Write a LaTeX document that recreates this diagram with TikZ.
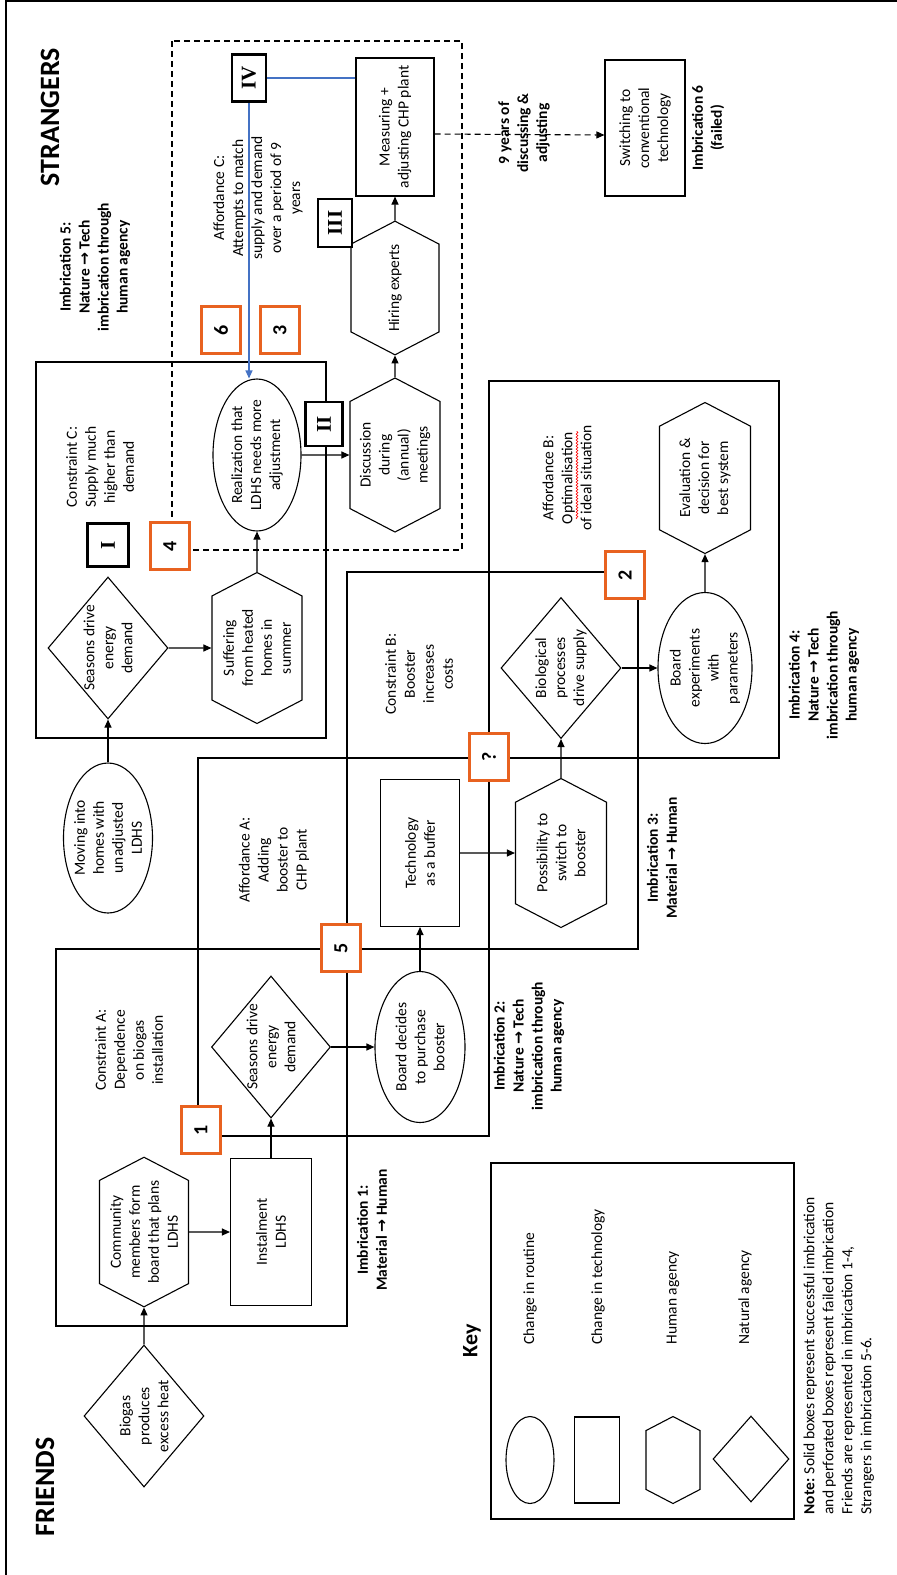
\documentclass[tikz,border=0pt]{standalone}
\usepackage{fontspec}
\setmainfont{Carlito}
\newfontfamily\arrowfont{DejaVu Sans}
\newfontfamily\romanfont{Liberation Serif}
\usetikzlibrary{shapes.geometric,shapes.symbols,arrows.meta,decorations.pathmorphing}

\definecolor{markorange}{RGB}{232,98,32}
\definecolor{linkblue}{RGB}{68,114,196}
\newcommand{\imbto}{{\arrowfont →}}

\tikzset{
  sz/.style 2 args={minimum width=#1,minimum height=#2},
  routine/.style={ellipse,draw,line width=1.1pt,inner sep=-8pt},
  techbox/.style={rectangle,draw,line width=1.1pt,inner sep=0pt},
  humanhex/.style={signal,signal to=east and west,signal pointer angle=125,draw,line width=1.1pt,inner sep=0pt},
  naturedia/.style={diamond,draw,line width=1.1pt,inner sep=-14pt},
  numbox/.style={draw=markorange,line width=2.6pt,fill=white,minimum width=47pt,minimum height=39pt,inner sep=0pt,font=\bfseries\fontsize{20}{20}\selectfont},
  stagebox/.style={draw,line width=2.8pt,fill=white,inner sep=0pt,font=\romanfont\bfseries\fontsize{21}{21}\selectfont},
  imbr/.style={font=\bfseries\fontsize{15.5}{19}\selectfont},
  arr/.style={line width=1.1pt,-{Triangle[length=8pt,width=7pt]}},
  region/.style={line width=1.1pt}
}

\begin{document}
\begin{tikzpicture}[x=1pt,y=-1pt,
  every node/.style={rotate=90,align=center,font=\fontsize{15.5}{19}\selectfont}]
  \useasboundingbox (0,0) rectangle (897,1575);
  \draw[line width=1.3pt] (6,1575) -- (6,1) -- (897,1);

  \draw[region] (36,362) rectangle (326,738);
  \draw[region,dash pattern=on 6pt off 4pt] (172,41) rectangle (462,550);
  \draw[region] (56,949) rectangle (347,1326);
  \draw[region] (198,758) rectangle (489,1136);
  \draw[region] (347,572) rectangle (638,949);
  \draw[region] (489,381) rectangle (779,758);
  \draw[region] (491,1163) rectangle (794,1519);

  \node[font=\bfseries\fontsize{28}{30}\selectfont] (strangers) at (50,117) {STRANGERS};
  \node[font=\bfseries\fontsize{28}{30}\selectfont] (friends) at (45,1487) {FRIENDS};

  \node[naturedia,sz={142pt}{120pt}] (biogas) at (144,1416) {Biogas\\produces\\excess heat};
  \node[humanhex,sz={149pt}{89pt}] (community) at (144,1232) {Community\\members form\\board that plans\\LDHS};
  \node[techbox,sz={147pt}{81pt}] (instal) at (271,1232) {Instalment\\LDHS};
  \node[naturedia,sz={142pt}{119pt}] (seasA) at (271,1047) {Seasons drive\\energy\\demand};
  \node[routine,sz={151pt}{90pt}] (boardbuy) at (420,1047) {Board decides\\to purchase\\booster};
  \node[techbox,sz={147pt}{79pt}] (techbuf) at (420,853) {Technology\\as a buffer};
  \node[humanhex,sz={149pt}{91pt}] (possib) at (561,853) {Possibility to\\switch to\\booster};
  \node[naturedia,sz={141pt}{120pt}] (bioproc) at (561,668) {Biological\\processes\\drive supply};
  \node[routine,sz={151pt}{94pt}] (boardexp) at (705,668) {Board\\experiments\\with\\parameters};
  \node[humanhex,sz={151pt}{91pt}] (evalsys) at (705,478) {Evaluation \&\\decision for\\best system};

  \node[routine,sz={150pt}{89pt}] (moving) at (108,838) {Moving into\\homes with\\unadjusted\\LDHS};
  \node[naturedia,sz={142pt}{120pt}] (seasC) at (108,648) {Seasons drive\\energy\\demand};
  \node[humanhex,sz={151pt}{90pt}] (suffer) at (257,648) {Suffering\\from heated\\homes in\\summer};
  \node[routine,sz={152pt}{88pt}] (realize) at (257,455) {Realization that\\LDHS needs more\\adjustment};
  \node[humanhex,sz={154pt}{90pt}] (discuss) at (395,455) {Discussion\\during\\(annual)\\meetings};
  \node[humanhex,sz={113pt}{88pt}] (hiring) at (395,288) {Hiring experts};
  \node[techbox,sz={138pt}{78pt}] (measure) at (395,127) {Measuring +\\adjusting CHP plant};
  \node[techbox,sz={136pt}{80pt}] (switchconv) at (645,128) {Switching to\\conventional\\technology};

  \draw[arr] (biogas) -- (community);
  \draw[arr] (community) -- (instal);
  \draw[arr] (instal) -- (seasA);
  \draw[arr] (seasA) -- (boardbuy);
  \draw[arr] (boardbuy) -- (techbuf);
  \draw[arr] (techbuf) -- (possib);
  \draw[arr] (possib) -- (bioproc);
  \draw[arr] (bioproc) -- (boardexp);
  \draw[arr] (boardexp) -- (evalsys);
  \draw[arr] (moving) -- (seasC);
  \draw[arr] (seasC) -- (suffer);
  \draw[arr] (suffer) -- (realize);
  \draw[arr] (realize) -- (discuss);
  \draw[arr] (discuss) -- (hiring);
  \draw[arr] (hiring) -- (measure);
  \draw[arr,dash pattern=on 6pt off 4pt] ([yshift=-7pt]measure.south) -- ([yshift=-7pt]switchconv.north);

  \node[stagebox,sz={47pt}{34pt}] (stageIV) at (249,78) {IV};
  \draw[linkblue,line width=1.2pt] (measure.north |- stageIV) -- (stageIV.south);
  \draw[linkblue,line width=1.2pt,-{Triangle[length=8pt,width=7pt]}] (stageIV.west) -- (stageIV.west |- realize.east);
  \node[stagebox,sz={43pt}{41pt}] (stageI) at (108,545) {I};
  \node[stagebox,sz={44pt}{37pt}] (stageII) at (324,424) {II};
  \node[stagebox,sz={48pt}{34pt}] (stageIII) at (335,223) {III};

  \node[numbox] (mark1) at (201,1130) {1};
  \node[numbox] (mark2) at (625,575) {2};
  \node[numbox] (mark3) at (280,330) {3};
  \node[numbox] (mark4) at (170,546) {4};
  \node[numbox] (mark5) at (341,948) {5};
  \node[numbox] (mark6) at (221,330) {6};
  \node[numbox] (markq) at (489,757) {?};

  \node (constrA) at (129,1050) {Constraint A:\\Dependence\\on biogas\\installation};
  \node (affA) at (274,860) {Affordance A:\\Adding\\booster to\\CHP plant};
  \node (constrB) at (419,674) {Constraint B:\\Booster\\increases\\costs};
  \node (affB) at (567,478) {Affordance B:\\Optimalisation\\of ideal situation};
  \draw[red,line width=0.6pt,decorate,decoration={snake,amplitude=0.9pt,segment length=3pt}] (577,519) -- (577,431);
  \node (constrC) at (100,467) {Constraint C:\\Supply much\\higher than\\demand};
  \node (affC) at (258,198) {Affordance C:\\Attempts to match\\supply and demand\\over a period of 9\\years};

  \node[imbr] (imb1) at (372,1230) {Imbrication 1:\\Material \imbto{} Human};
  \node[imbr] (imb2) at (529,1046) {Imbrication 2:\\Nature \imbto{} Tech\\imbrication through\\human agency};
  \node[imbr] (imb3) at (662,858) {Imbrication 3:\\Material \imbto{} Human};
  \node[imbr] (imb4) at (824,675) {Imbrication 4:\\Nature \imbto{} Tech\\imbrication through\\human agency};
  \node[imbr] (imb5) at (95,267) {Imbrication 5:\\Nature \imbto{} Tech\\imbrication through\\human agency};
  \node[imbr] (imb6) at (708,128) {Imbrication 6\\(failed)};
  \node[imbr] (yearslbl) at (524,133) {9 years of\\discussing \&\\adjusting};

  \node[font=\bfseries\fontsize{22}{24}\selectfont] (keytitle) at (472,1341) {Key};
  \node[routine,inner sep=0pt,sz={87pt}{48pt}] (keyroutine) at (530,1460) {};
  \node[techbox,sz={86pt}{45pt}] (keytech) at (597,1460) {};
  \node[humanhex,sz={87pt}{54pt}] (keyhuman) at (673,1460) {};
  \node[naturedia,inner sep=0pt,sz={86pt}{76pt}] (keynature) at (751,1459) {};
  \node[anchor=west] (keyroutinetxt) at (530,1348) {Change in routine};
  \node[anchor=west] (keytechtxt) at (598,1348) {Change in technology};
  \node[anchor=west] (keyhumantxt) at (673,1348) {Human agency};
  \node[anchor=west] (keynaturetxt) at (745,1348) {Natural agency};
  \node[anchor=north west,align=left] (notetxt) at (800,1518) {\textbf{Note:} Solid boxes represent successful imbrication\\and perforated boxes represent failed imbrication\\Friends are represented in imbrication 1-4,\\Strangers in imbrication 5-6.};
\end{tikzpicture}
\end{document}
